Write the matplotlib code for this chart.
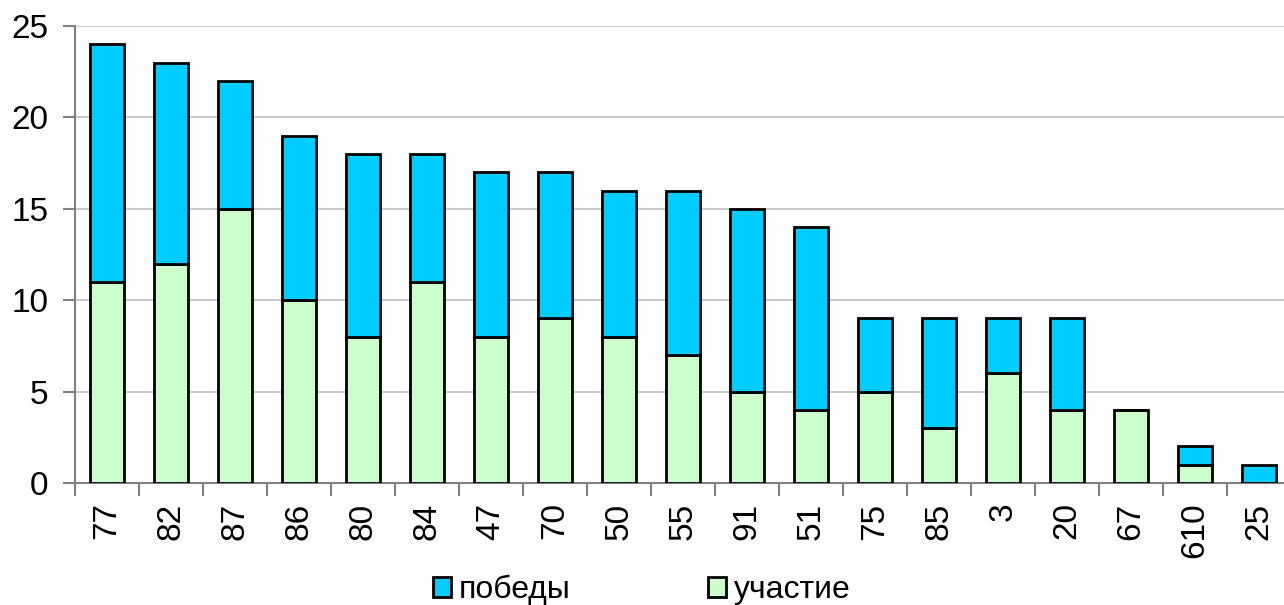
import matplotlib
matplotlib.use("Agg")
import matplotlib.pyplot as plt
import numpy as np

categories = ["77", "82", "87", "86", "80", "84", "47", "70", "50", "55",
              "91", "51", "75", "85", "3", "20", "67", "610", "25"]
uchastie = [11, 12, 15, 10, 8, 11, 8, 9, 8, 7, 5, 4, 5, 3, 6, 4, 4, 1, 0]
pobedy = [13, 11, 7, 9, 10, 7, 9, 8, 8, 9, 10, 10, 4, 6, 3, 5, 0, 1, 1]

blue = "#00CCFF"
green = "#CCFFCC"

plt.rcParams['font.family'] = ['Liberation Sans', 'DejaVu Sans']

W, H = 1284, 605
fig = plt.figure(figsize=(W / 100, H / 100), dpi=100)
ax = fig.add_axes([75 / W, (H - 483) / H, (1291 - 75) / W, (483 - 26) / H])

x = np.arange(len(categories))
bw = 0.52
b1 = ax.bar(x, uchastie, bw, color=green, edgecolor="black", linewidth=2.0,
            label="участие", zorder=3)
b2 = ax.bar(x, pobedy, bw, bottom=uchastie, color=blue, edgecolor="black",
            linewidth=2.0, label="победы", zorder=3)

ax.set_xlim(-0.5, len(categories) - 0.5)
ax.set_ylim(0, 25)
ax.set_yticks(range(0, 26, 5))
ax.yaxis.grid(True, color="#c0c0c0", linewidth=1.2, zorder=0)
ax.set_axisbelow(True)

for s in ["top", "right"]:
    ax.spines[s].set_visible(False)
for s in ["left", "bottom"]:
    ax.spines[s].set_color("#808080")
    ax.spines[s].set_linewidth(1.5)

# category labels centred, ticks on category boundaries
ax.set_xticks(x)
ax.set_xticklabels(categories, rotation=90, fontsize=24)
ax.tick_params(axis="x", which="major", length=0, pad=14)
ax.set_xticks(np.arange(-0.5, len(categories), 1), minor=True)
ax.tick_params(axis="x", which="minor", length=9, width=1.5, color="#808080")
ax.tick_params(axis="y", length=9, width=1.5, color="#808080",
               labelsize=24, pad=10)

fig.legend(handles=[b2, b1], labels=["победы", "участие"], loc="center",
           bbox_to_anchor=(0.5, 15 / H), ncol=2, frameon=False, fontsize=23,
           handlelength=0.55, handleheight=0.55, handletextpad=0.25,
           columnspacing=4.3, borderaxespad=0)

fig.savefig("out.png", dpi=100)
